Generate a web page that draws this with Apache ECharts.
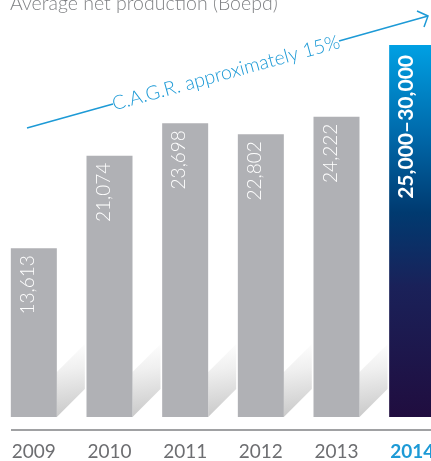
<!DOCTYPE html>
<html>
<head>
<meta charset="utf-8">
<script src="https://cdn.jsdelivr.net/npm/echarts@6/dist/echarts.min.js"></script>
<style>html,body{margin:0;padding:0;background:#fff;overflow:hidden;}#wrap{position:relative;width:431px;height:461px;overflow:hidden;}#c{position:absolute;left:-4px;top:0;width:454px;height:461px;}</style>
</head>
<body>
<div id="wrap"><div id="c"></div></div>
<script>
var categories = ['2009', '2010', '2011', '2012', '2013', '2014'];
var values = [13613, 21074, 23698, 22802, 24222, 30000];
var valueLabels = ['13,613', '21,074', '23,698', '22,802', '24,222', '25,000–30,000'];
var titleText = 'Average net production (Boepd)';
var cagrText = 'C.A.G.R. approximately 15%';

var FONT = 'Lato, "Open Sans", sans-serif';
var BLUE = '#1d9ad6';
var DX = 4; // container offset

var chart = echarts.init(document.getElementById('c'), null, {renderer: 'canvas'});

var barData = values.map(function (v, i) {
  var item = {
    value: v,
    itemStyle: {color: '#b0b1b5'},
    label: {formatter: valueLabels[i]}
  };
  if (i === categories.length - 1) {
    item.itemStyle = {
      color: new echarts.graphic.LinearGradient(0, 0, 0, 1, [
        {offset: 0, color: '#00a0e3'},
        {offset: 0.25, color: '#0067a8'},
        {offset: 0.45, color: '#003a70'},
        {offset: 0.65, color: '#1a2159'},
        {offset: 1, color: '#200d3f'}
      ])
    };
    item.label = {
      formatter: valueLabels[i],
      fontWeight: 'bold',
      fontSize: 21,
      distance: 10
    };
  }
  return item;
});

var shadowData = values.map(function (v, i) { return [i, 0]; });

chart.setOption({
  animation: false,
  grid: {left: 0, right: 0, top: 45, bottom: 44, containLabel: false},
  xAxis: {
    type: 'category',
    data: categories,
    axisLine: {show: false},
    axisTick: {show: false},
    axisLabel: {
      interval: 0,
      margin: 25,
      fontFamily: FONT,
      fontSize: 19,
      color: '#6d6e71',
      formatter: function (v, i) {
        return i === categories.length - 1 ? '{hl|' + v + '}' : '{n|' + v + '}';
      },
      rich: {
        n: {fontFamily: FONT, fontSize: 19, color: '#6d6e71'},
        hl: {fontFamily: FONT, fontSize: 19, color: BLUE, fontWeight: 'bold'}
      }
    }
  },
  yAxis: {
    type: 'value', min: 0, max: 30000,
    show: false
  },
  series: [
    {
      type: 'custom',
      z: 1,
      data: shadowData,
      renderItem: function (params, api) {
        var p = api.coord([api.value(0), api.value(1)]);
        var xr = p[0] + 23;
        var y0 = p[1];
        return {
          type: 'polygon',
          shape: {points: [[xr, y0], [xr, y0 - 45], [xr + 28, y0 - 73], [xr + 28, y0 - 28]]},
          style: {
            fill: new echarts.graphic.LinearGradient(0.2, 0, 0.6, 1, [
              {offset: 0, color: 'rgba(255,255,255,1)'},
              {offset: 0.35, color: 'rgba(240,240,240,1)'},
              {offset: 1, color: 'rgba(200,200,200,1)'}
            ])
          }
        };
      }
    },
    {
      type: 'bar',
      z: 2,
      barWidth: 46,
      data: barData,
      label: {
        show: true,
        position: 'insideTop',
        rotate: 90,
        align: 'right',
        verticalAlign: 'middle',
        distance: 7,
        offset: [0, -6],
        color: '#ffffff',
        fontFamily: FONT,
        fontWeight: 300,
        fontSize: 19
      }
    }
  ],
  graphic: [
    {
      type: 'text', z: 10, x: 10 + DX, y: 14,
      style: {text: titleText, fontFamily: FONT, fontWeight: 300, fontSize: 19.5, fill: '#808285', verticalAlign: 'bottom'}
    },
    {
      type: 'line', z: 10,
      shape: {x1: 11 + DX, y1: 430, x2: 431 + DX, y2: 430},
      style: {stroke: '#808285', lineWidth: 1.5}
    },
    {
      type: 'polyline', z: 10,
      shape: {points: [[27 + DX, 128], [113 + DX, 104]]},
      style: {stroke: BLUE, lineWidth: 1.5, fill: null}
    },
    {
      type: 'polyline', z: 10,
      shape: {points: [[339 + DX, 41], [428 + DX, 16]]},
      style: {stroke: BLUE, lineWidth: 1.5, fill: null}
    },
    {
      type: 'polyline', z: 10,
      shape: {points: [[417 + DX, 11], [428 + DX, 16], [424 + DX, 27]]},
      style: {stroke: BLUE, lineWidth: 1.5, fill: null}
    },
    {
      type: 'text', z: 10,
      x: 226 + DX, y: 73,
      rotation: 0.27,
      style: {
        text: cagrText, fontFamily: FONT, fontWeight: 300, fontSize: 19.5,
        fill: BLUE, align: 'center', verticalAlign: 'middle'
      }
    }
  ]
});
</script>
</body>
</html>
